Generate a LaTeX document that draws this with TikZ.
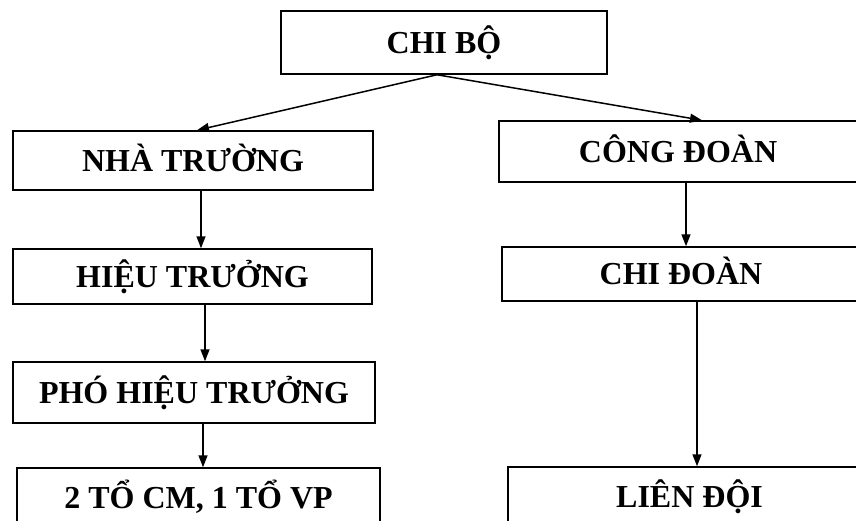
\documentclass[tikz,border=0pt]{standalone}
\usepackage{fontspec}
\setmainfont{Liberation Serif}
\usetikzlibrary{arrows.meta}
\begin{document}
\begin{tikzpicture}[x=1pt,y=-1pt,
  box/.style={draw, line width=1.5pt, inner sep=0pt, minimum width=#1,
    font=\fontsize{32}{32}\selectfont\bfseries, text height=21pt, text depth=0pt},
  conn/.style={line width=1.5pt, -{Triangle[length=12pt,width=9pt]}}]
\useasboundingbox[fill=white] (0,0) rectangle (856,520);
\node[box=326pt, minimum height=63pt] (chibo) at (444,42.5) {CHI BỘ};
\node[box=360pt, minimum height=59pt] (nhatruong) at (193,160.5) {NHÀ TRƯỜNG};
\node[box=359pt, minimum height=55pt] (hieutruong) at (192.5,276.5) {HIỆU TRƯỞNG};
\node[box=362pt, minimum height=61pt] (pho) at (194,392.5) {PHÓ HIỆU TRƯỞNG};
\node[box=363pt, minimum height=60pt] (to) at (198.5,498) {2 TỔ CM, 1 TỔ VP};
\node[box=358pt, minimum height=61pt] (congdoan) at (678,151.5) {CÔNG ĐOÀN};
\node[box=358pt, minimum height=54pt] (chidoan) at (681,274) {CHI ĐOÀN};
\node[box=363pt, minimum height=60pt] (liendoi) at (689.5,497) {LIÊN ĐỘI};
\draw[conn] ([xshift=-7pt]chibo.south) -- ([xshift=4pt]nhatruong.north);
\draw[conn] ([xshift=-7pt]chibo.south) -- ([xshift=24pt]congdoan.north);
\draw[conn] ([xshift=8pt]nhatruong.south) -- ([xshift=8.5pt]hieutruong.north);
\draw[conn] ([xshift=12.5pt]hieutruong.south) -- ([xshift=11pt]pho.north);
\draw[conn] ([xshift=9pt]pho.south) -- ([xshift=4.5pt]to.north);
\draw[conn] ([xshift=8pt]congdoan.south) -- ([xshift=5pt]chidoan.north);
\draw[conn] ([xshift=16pt]chidoan.south) -- ([xshift=7.5pt]liendoi.north);
\end{tikzpicture}
\end{document}
